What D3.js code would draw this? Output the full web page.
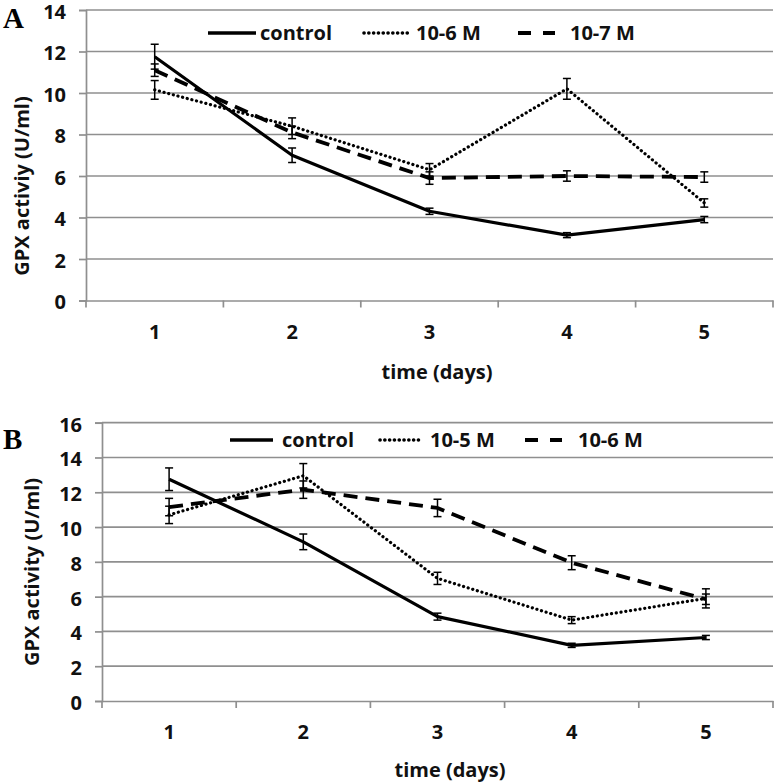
<!DOCTYPE html>
<html><head><meta charset="utf-8">
<script src="https://cdn.jsdelivr.net/npm/d3@7"></script>
<style>body{margin:0;background:#fff}svg{display:block}</style>
</head><body><svg id="c" width="775" height="784"></svg>
<script>
const days = [1, 2, 3, 4, 5];
// Panel A
const aControl = [11.75, 7.0, 4.3, 3.15, 3.9];
const aControlErr = [0.6, 0.35, 0.15, 0.12, 0.15];
const a106 = [10.15, 8.4, 6.3, 10.2, 4.7];
const a106Err = [0.45, 0.4, 0.3, 0.5, 0.2];
const a107 = [11.1, 8.1, 5.9, 6.0, 5.95];
const a107Err = [0.3, 0.3, 0.3, 0.25, 0.25];
const aTicks = [0, 2, 4, 6, 8, 10, 12, 14];
// Panel B
const bControl = [12.75, 9.15, 4.85, 3.2, 3.65];
const bControlErr = [0.65, 0.45, 0.2, 0.12, 0.12];
const b105 = [10.7, 12.95, 7.05, 4.65, 5.9];
const b105Err = [0.5, 0.7, 0.35, 0.2, 0.55];
const b106 = [11.15, 12.15, 11.1, 7.95, 5.85];
const b106Err = [0.5, 0.5, 0.5, 0.4, 0.3];
const bTicks = [0, 2, 4, 6, 8, 10, 12, 14, 16];

const FONT = "'Open Sans', sans-serif";
const FS = 20;
const svg = d3.select("#c");
const styles = {
  solid: {dash: null, w: 3.2, cap: "butt"},
  dot: {dash: "0.1 4.7", w: 3.2, cap: "round"},
  dash: {dash: "14 8", w: 3.8, cap: "butt"}
};
function txt(sel) {
  return sel.style("font-family", FONT).style("font-weight", 700)
    .style("font-size", FS + "px").attr("fill", "#111");
}

function panel(cfg) {
  const g = svg.append("g");
  const x = d3.scaleBand().domain(days).range([cfg.left, cfg.right]);
  const y = d3.scaleLinear().domain([0, cfg.max]).range([cfg.bottom, cfg.top]);
  g.selectAll(".grid").data(cfg.ticks.slice(1)).join("line")
    .attr("x1", cfg.left).attr("x2", cfg.right)
    .attr("y1", d => y(d)).attr("y2", d => y(d))
    .attr("stroke", "#8f8f8f").attr("stroke-width", 1.7);
  const ya = d3.axisLeft(y).tickValues(cfg.ticks).tickSize(7).tickPadding(13);
  const yg = g.append("g").attr("transform", `translate(${cfg.left},0)`).call(ya);
  yg.select(".domain").attr("stroke", "#8f8f8f").attr("stroke-width", 1.7);
  yg.selectAll(".tick line").attr("stroke", "#8f8f8f").attr("stroke-width", 1.7);
  txt(yg.selectAll(".tick text")).attr("dy", "0.42em");
  const xa = d3.axisBottom(x).tickSize(0).tickPadding(24);
  const xg = g.append("g").attr("transform", `translate(0,${cfg.bottom})`).call(xa);
  xg.select(".domain").attr("stroke", "#8f8f8f").attr("stroke-width", 1.7);
  txt(xg.selectAll(".tick text"));
  const bounds = days.map(d => x(d)).concat([cfg.right]);
  g.selectAll(".bt").data(bounds).join("line")
    .attr("x1", d => d).attr("x2", d => d)
    .attr("y1", cfg.bottom).attr("y2", cfg.bottom + 7)
    .attr("stroke", "#8f8f8f").attr("stroke-width", 1.7);
  const cx = d => x(d) + x.bandwidth() / 2;
  cfg.series.forEach(s => {
    const st = styles[s.style];
    const line = d3.line().x((v, i) => cx(days[i])).y(v => y(v));
    g.append("path").datum(s.values).attr("d", line)
      .attr("fill", "none").attr("stroke", "#000").attr("stroke-width", st.w)
      .attr("stroke-dasharray", st.dash).attr("stroke-linecap", st.cap)
      .attr("stroke-linejoin", "round");
    s.values.forEach((v, i) => {
      const e = s.err[i], xc = cx(days[i]);
      g.append("line").attr("x1", xc).attr("x2", xc).attr("y1", y(v - e)).attr("y2", y(v + e))
        .attr("stroke", "#000").attr("stroke-width", 1.5);
      [v - e, v + e].forEach(b => g.append("line").attr("x1", xc - 4).attr("x2", xc + 4)
        .attr("y1", y(b)).attr("y2", y(b)).attr("stroke", "#000").attr("stroke-width", 1.5));
    });
  });
  cfg.legend.forEach(l => {
    const st = styles[l.style];
    g.append("line").attr("x1", l.x1).attr("x2", l.x2).attr("y1", cfg.legY).attr("y2", cfg.legY)
      .attr("stroke", "#000").attr("stroke-width", st.w + 0.4)
      .attr("stroke-dasharray", l.style === "dash" ? "13 12" : st.dash).attr("stroke-linecap", st.cap);
    txt(g.append("text").attr("x", l.tx).attr("y", cfg.legY + 7).text(l.label));
  });
  txt(g.append("text").attr("x", cfg.xtX).attr("y", cfg.xtY).attr("text-anchor", "middle")
    .text("time (days)"));
  txt(g.append("text").attr("transform", `translate(${cfg.ytX},${cfg.ytY}) rotate(-90)`)
    .attr("text-anchor", "middle").text(cfg.ytitle));
  g.append("text").attr("x", 3).attr("y", cfg.letterY)
    .style("font-family", "'Liberation Serif', serif").style("font-weight", 700)
    .style("font-size", "29px").attr("fill", "#000").text(cfg.letter);
}

panel({
  left: 86, right: 773, top: 10, bottom: 300.5, max: 14, ticks: aTicks,
  series: [
    {values: aControl, err: aControlErr, style: "solid"},
    {values: a106, err: a106Err, style: "dot"},
    {values: a107, err: a107Err, style: "dash"}
  ],
  legY: 33,
  legend: [
    {x1: 208, x2: 256, tx: 260, label: "control", style: "solid"},
    {x1: 364, x2: 408, tx: 416, label: "10-6 M", style: "dot"},
    {x1: 518, x2: 555, tx: 570, label: "10-7 M", style: "dash"}
  ],
  xtX: 437, xtY: 379, ytX: 29, ytY: 186, ytitle: "GPX activiy (U/ml)",
  letter: "A", letterY: 28
});

panel({
  left: 102, right: 773, top: 422.7, bottom: 701, max: 16, ticks: bTicks,
  series: [
    {values: bControl, err: bControlErr, style: "solid"},
    {values: b105, err: b105Err, style: "dot"},
    {values: b106, err: b106Err, style: "dash"}
  ],
  legY: 440,
  legend: [
    {x1: 230, x2: 273, tx: 282, label: "control", style: "solid"},
    {x1: 380, x2: 421, tx: 430, label: "10-5 M", style: "dot"},
    {x1: 525, x2: 562, tx: 578, label: "10-6 M", style: "dash"}
  ],
  xtX: 450, xtY: 777, ytX: 39, ytY: 572, ytitle: "GPX activity (U/ml)",
  letter: "B", letterY: 449
});
</script></body></html>
